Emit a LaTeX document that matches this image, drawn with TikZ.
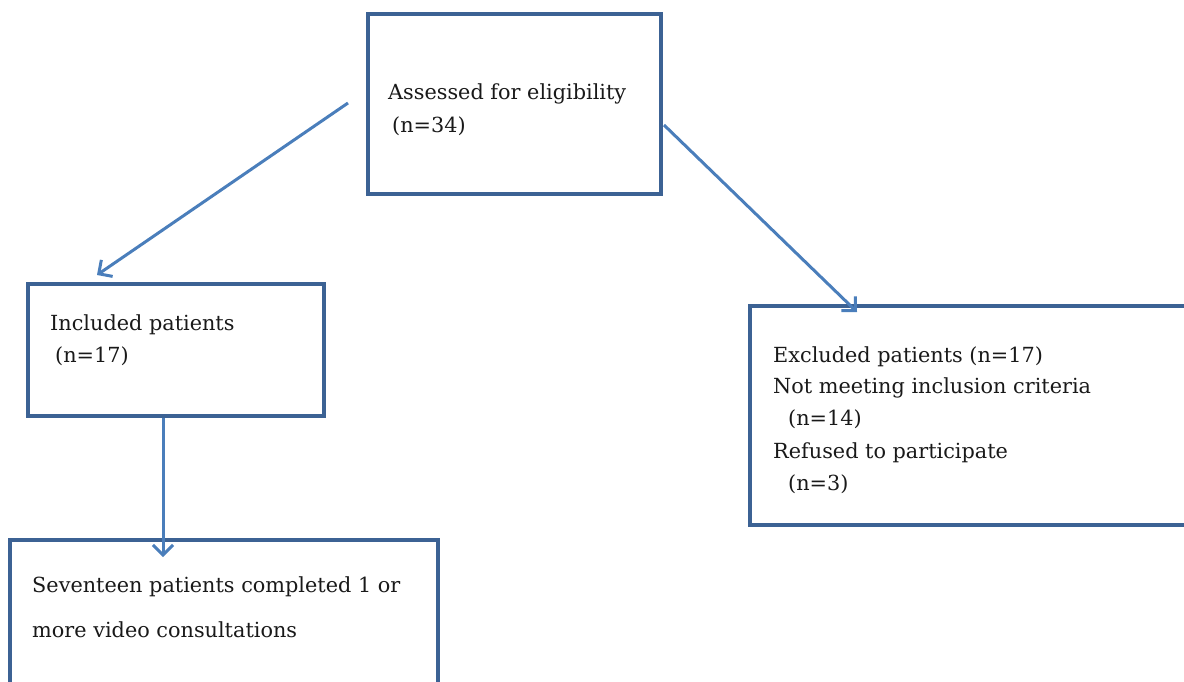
\documentclass[tikz,border=0pt]{standalone}
\usepackage{fontspec}
\setmainfont{DejaVu Serif}
\usetikzlibrary{arrows.meta,calc}
\definecolor{boxblue}{HTML}{3C6294}
\definecolor{arrblue}{HTML}{4A7EBB}
\tikzset{
  box/.style={draw=boxblue, line width=4pt, rectangle, inner sep=0pt},
  txt/.style={anchor=base west, inner sep=0pt, font=\fontsize{20.8}{25}\selectfont, text=black!90},
  conn/.style={draw=arrblue, line width=3pt, -{Straight Barb[length=10pt,width=20pt,line width=3pt]}}
}
\begin{document}
\begin{tikzpicture}[x=1pt,y=-1pt]
\useasboundingbox (0,0) rectangle (1184,682);
\clip (0,0) rectangle (1184,682);
\node[box, minimum width=293pt, minimum height=180pt] (assess) at (514.5,104) {};
\node[box, minimum width=296pt, minimum height=132pt] (incl) at (176,350) {};
\node[box, minimum width=450pt, minimum height=219pt] (excl) at (975,415.5) {};
\node[box, minimum width=428pt, minimum height=160pt] (compl) at (224,620) {};

\node[txt] (t1) at (388,100) {Assessed for eligibility};
\node[txt] (t2) at (392,133) {(n=34)};
\node[txt] (t3) at (50,330) {Included patients};
\node[txt] (t4) at (55,362) {(n=17)};
\node[txt] (t5) at (773,362) {Excluded patients (n=17)};
\node[txt] (t6) at (773,393) {Not meeting inclusion criteria};
\node[txt] (t7) at (788,425) {(n=14)};
\node[txt] (t8) at (773,458) {Refused to participate};
\node[txt] (t9) at (788,490) {(n=3)};
\node[txt] (t10) at (32,592) {Seventeen patients completed 1 or};
\node[txt] (t11) at (32,637) {more video consultations};

\coordinate (a1s) at ($(assess.west)+(-18,-1)$);
\coordinate (a1e) at (97,275);
\coordinate (a2s) at ($(assess.east)+(1,21)$);
\coordinate (a2e) at (857,312);
\coordinate (a3e) at (163,557);
\draw[conn] (a1s) -- (a1e);
\draw[conn] (a2s) -- (a2e);
\draw[conn] (incl.south -| a3e) -- (a3e);
\end{tikzpicture}
\end{document}
